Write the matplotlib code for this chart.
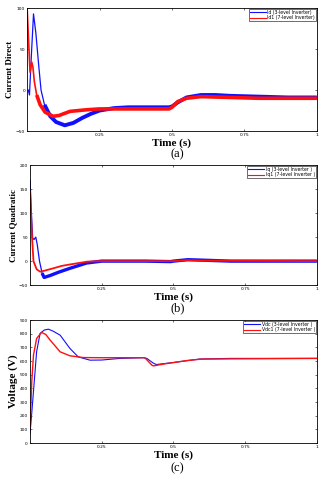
import numpy as np
import matplotlib.pyplot as plt

# panel (a) current direct
t_id = [0.004, 0.008, 0.015, 0.022, 0.03, 0.04, 0.048, 0.06, 0.08, 0.1, 0.13, 0.16,
        0.19, 0.22, 0.25, 0.3, 0.35, 0.4, 0.45, 0.49, 0.5, 0.52, 0.55, 0.6, 0.65,
        0.7, 0.8, 0.9, 1.0]
id_3 = [0, -6, 45, 93, 70, 30, 0, -18, -32, -39, -43, -40, -34, -29, -25, -22,
        -21, -21, -21, -21, -20, -15, -9, -6, -6, -7, -8, -9, -9]
t_id1 = [0, 0.005, 0.01, 0.016, 0.02, 0.025, 0.033, 0.045, 0.062, 0.09, 0.11, 0.148,
         0.206, 0.25, 0.32, 0.4, 0.49, 0.5, 0.52, 0.55, 0.6, 0.7, 0.8, 1.0]
id_7 = [100, 60, 22, 34, 28, 10, -6, -18, -27, -32, -31, -26, -24, -23, -23, -23, -23,
        -21, -14, -10, -8, -9, -10, -10]

# panel (b) current quadratic
t_iq = [0, 0.004, 0.009, 0.014, 0.02, 0.025, 0.033, 0.042, 0.049, 0.07, 0.1, 0.139,
        0.197, 0.25, 0.4, 0.49, 0.5, 0.55, 0.6, 0.7, 1.0]
iq_3 = [169, 110, 48, 45, 50, 35, 0, -25, -34, -30, -23, -15, -4, 0, 0, -1, 0, 3, 2, 0, 0]
t_iq1 = [0, 0.006, 0.012, 0.023, 0.035, 0.05, 0.081, 0.11, 0.139, 0.2, 0.25, 0.4, 0.5,
         0.55, 0.6, 1.0]
iq_7 = [144, 60, 0, -17, -22, -20, -15, -10, -7, -1, 0, 0, 0, 2, 1, 0]

# panel (c) dc voltage
t_v = [0, 0.006, 0.012, 0.023, 0.035, 0.05, 0.064, 0.08, 0.105, 0.139, 0.168, 0.209,
       0.25, 0.314, 0.395, 0.407, 0.43, 0.44, 0.5, 0.59, 0.7, 1.0]
vdc_3 = [71, 220, 378, 670, 803, 828, 834, 820, 790, 693, 631, 607, 608, 620, 625, 620,
         585, 575, 590, 615, 620, 620]
t_v1 = [0, 0.003, 0.006, 0.012, 0.023, 0.04, 0.055, 0.07, 0.105, 0.139, 0.186, 0.25,
        0.4, 0.407, 0.425, 0.43, 0.47, 0.55, 0.6, 1.0]
vdc_7 = [110, 280, 449, 644, 766, 810, 795, 754, 668, 639, 626, 625, 625, 610, 570,
         565, 580, 605, 615, 620]

xticks = [0.25, 0.5, 0.75, 1]
serif = 'Liberation Serif'
blue = '#1010ff'
red = '#ff1010'

fig = plt.figure(figsize=(3.23, 4.80), dpi=100)

# pos, blue t/y, red t/y, ylim, yticks, ylabel, legend labels,
# (thin lw, thick lw, t where ripple band starts) for blue and red, caption, caption y
panels = [
    ([0.084, 0.727, 0.897, 0.256], t_id, id_3, t_id1, id_7, (-50, 100), [-50, 0, 50, 100],
     'Current Direct', 'Id (3-level Inverter)', 'Id1 (7-level Inverter)',
     (0.9, 2.8, 0.06), (1.2, 2.6, 0.03), '(a)', 0.672, 6.5),
    ([0.093, 0.406, 0.888, 0.250], t_iq, iq_3, t_iq1, iq_7, (-50, 200), [-50, 0, 50, 100, 150, 200],
     'Current Quadratic', 'Iq (3-level Inverter )', 'Iq1 (7-level Inverter )',
     (0.9, 2.4, 0.042), (1.3, 1.3, 1.0), '(b)', 0.352, 6.5),
    ([0.093, 0.077, 0.888, 0.256], t_v, vdc_3, t_v1, vdc_7, (0, 900), list(range(0, 1000, 100)),
     'Voltage (V)', 'Vdc (3-level Inverter )', 'Vdc1 (7-level Inverter )',
     (0.8, 0.8, 1.0), (1.0, 1.0, 1.0), '(c)', 0.018, 8),
]

for (pos, ta, ya, tb, yb, ylim, yt, ylab, la, lb, sa, sb, tag, ty, yfs) in panels:
    ax = fig.add_axes(pos)
    for tt, yy, (lw0, lw1, ts), c, lab in [(ta, ya, sa, blue, la), (tb, yb, sb, red, lb)]:
        ax.plot(tt, yy, color=c, lw=lw0, label=lab)
        k = np.searchsorted(tt, ts)
        if k < len(tt) - 1:
            ax.plot(tt[k:], yy[k:], color=c, lw=lw1, solid_capstyle='butt')
    ax.set_xlim(0, 1)
    ax.set_ylim(*ylim)
    ax.set_xticks(xticks)
    ax.set_xticklabels(['0.25', '0.5', '0.75', '1'])
    ax.set_yticks(yt)
    ax.tick_params(direction='in', length=1.5, width=0.4, labelsize=3.2, pad=1.5,
                   top=True, right=True)
    for sp in ax.spines.values():
        sp.set_linewidth(0.6)
    ax.set_xlabel('Time (s)', fontsize=8, fontweight='bold', family=serif, labelpad=1)
    ax.set_ylabel(ylab, fontsize=yfs, fontweight='bold', family=serif, labelpad=1)
    leg = ax.legend(loc='upper right', fontsize=3.3, frameon=True, fancybox=False,
                    borderpad=0.2, handlelength=3.5, handletextpad=0.3, labelspacing=0.1,
                    borderaxespad=0.2)
    leg.get_frame().set_edgecolor('black')
    leg.get_frame().set_linewidth(0.5)
    for h in leg.get_lines():
        h.set_linewidth(0.8)
    fig.text(0.55, ty, tag, ha='center', fontsize=9, family=serif)

plt.savefig('out.png', dpi=100)
